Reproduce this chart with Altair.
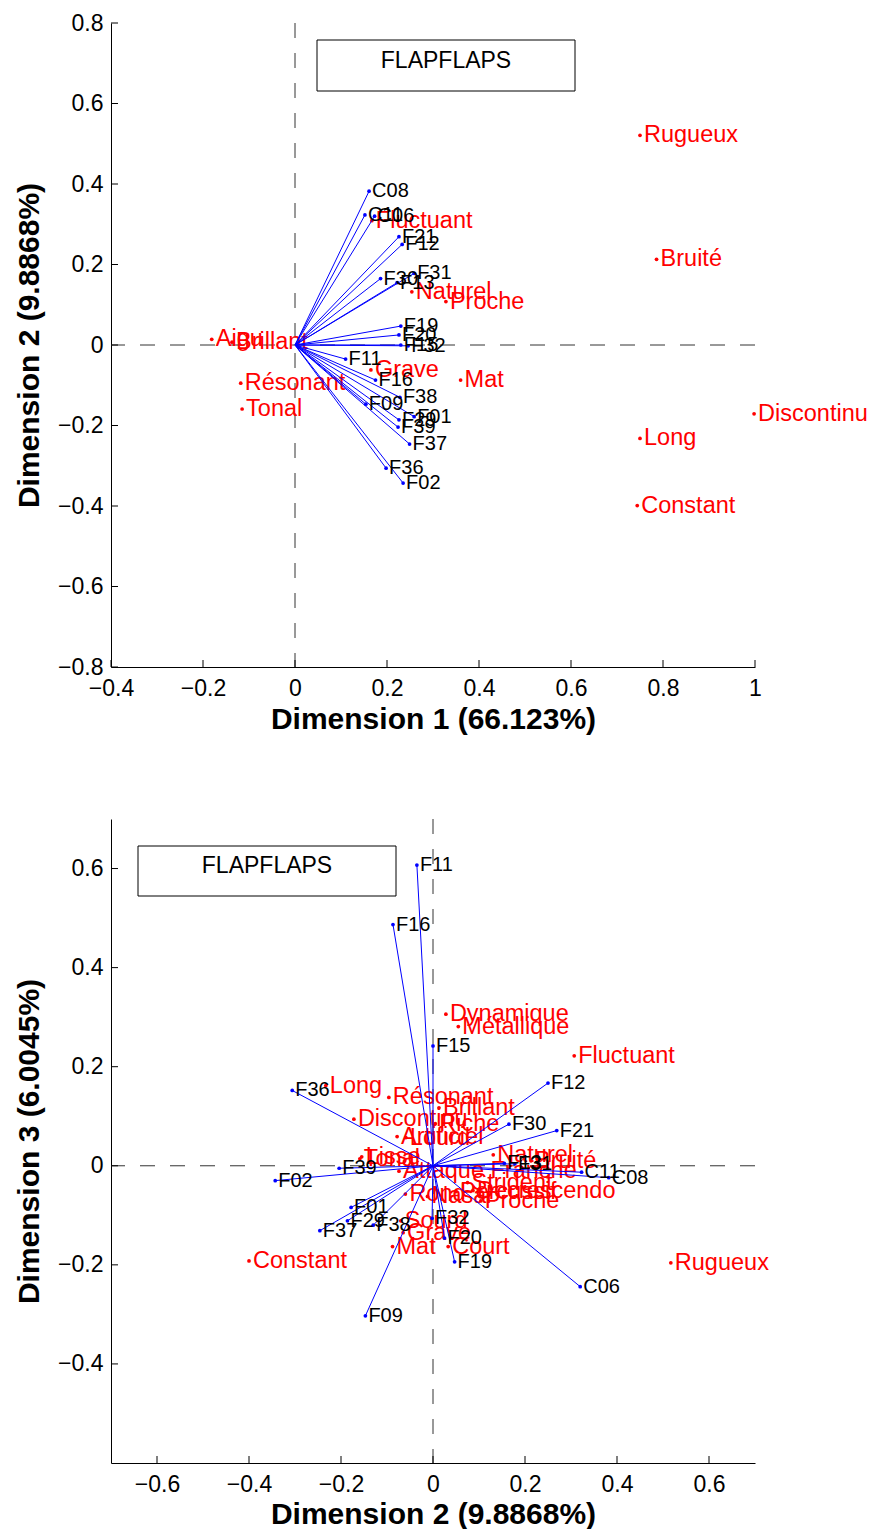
import altair as alt
import pandas as pd

FONT = "Liberation Sans"

# ---------------- stimuli (blue vectors) ----------------
stim_names = ["C08", "C11", "C06", "F21", "F12", "F30", "F31", "F13", "F19", "F20",
              "F15", "F32", "F11", "F16", "F38", "F09", "F01", "F29", "F39", "F37",
              "F36", "F02"]
stim_dim1 = [0.161, 0.152, 0.173, 0.226, 0.233, 0.186, 0.259, 0.222, 0.230, 0.226,
             0.230, 0.246, 0.110, 0.175, 0.228, 0.154, 0.259, 0.226, 0.224, 0.249,
             0.198, 0.235]
stim_dim2 = [0.382, 0.323, 0.320, 0.269, 0.250, 0.165, 0.178, 0.155, 0.047, 0.025,
             0.000, -0.002, -0.035, -0.087, -0.130, -0.147, -0.178, -0.186, -0.204, -0.246,
             -0.306, -0.343]
stim_dim3 = [-0.024, -0.013, -0.244, 0.071, 0.167, 0.084, 0.004, 0.005, -0.194, -0.146,
             0.242, -0.106, 0.607, 0.487, -0.120, -0.303, -0.084, -0.111, -0.005, -0.131,
             0.152, -0.030]

# ---------------- descriptors, panel 1 (dims 1-2) ----------------
top_desc_names = ["Rugueux", "Bruité", "Discontinu", "Long", "Constant", "Aigu", "Brillant",
                  "Résonant", "Tonal", "Fluctuant", "Naturel", "Proche", "Grave", "Mat"]
top_desc_dim1 = [0.750, 0.786, 0.998, 0.750, 0.744, -0.181, -0.137,
                 -0.118, -0.115, 0.167, 0.254, 0.328, 0.165, 0.360]
top_desc_dim2 = [0.521, 0.213, -0.171, -0.232, -0.399, 0.014, 0.007,
                 -0.095, -0.159, 0.309, 0.132, 0.108, -0.062, -0.087]

# ---------------- descriptors, panel 2 (dims 2-3) ----------------
bot_desc_names = ["Dynamique", "Métallique", "Fluctuant", "Long", "Résonant", "Brillant",
                  "Discontinu", "Riche", "Artificiel", "Lourd", "Tonal", "Lisse",
                  "Attaque Franche", "Naturel", "Bruité", "Strident", "Percussif",
                  "Decrescendo", "Rond", "Nasal", "Proche", "Sourd", "Grave",
                  "Mat", "Court", "Constant", "Rugueux"]
bot_desc_dim2 = [0.028, 0.055, 0.307, -0.233, -0.096, 0.013,
                 -0.172, 0.005, -0.078, -0.059, -0.159, -0.155,
                 -0.074, 0.131, 0.213, 0.075, 0.050,
                 0.087, -0.060, -0.012, 0.104, -0.070, -0.065,
                 -0.088, 0.033, -0.400, 0.517]
bot_desc_dim3 = [0.306, 0.281, 0.222, 0.162, 0.138, 0.117,
                 0.094, 0.085, 0.059, 0.057, 0.014, 0.018,
                 -0.011, 0.022, 0.010, -0.034, -0.052,
                 -0.050, -0.057, -0.062, -0.071, -0.111, -0.135,
                 -0.163, -0.163, -0.192, -0.196]

# ---------------- axes ----------------
top_xticks = [-0.4, -0.2, 0.0, 0.2, 0.4, 0.6, 0.8, 1.0]
top_yticks = [-0.8, -0.6, -0.4, -0.2, 0.0, 0.2, 0.4, 0.6, 0.8]
bot_xticks = [-0.6, -0.4, -0.2, 0.0, 0.2, 0.4, 0.6]
bot_yticks = [-0.4, -0.2, 0.0, 0.2, 0.4, 0.6]
legend_label = ["FLAPFLAPS"]

W = 644
H = 644


def make_axis(values, title, orient, tpad):
    common = dict(values=values, format=".1~f", ticks=False, grid=False,
                  domainColor="black", domainWidth=1,
                  labelFont=FONT, labelFontSize=23, labelColor="black",
                  labelFlush=False, labelOverlap=False,
                  title=title, titleFont=FONT, titleFontSize=30,
                  titleFontWeight="bold", titleColor="black")
    if orient == "x":
        return alt.Axis(labelPadding=10, titlePadding=tpad, **common)
    return alt.Axis(labelPadding=8, titlePadding=13, **common)


def panel(stim_df, xcol, ycol, desc_df, xdom, ydom, xticks, yticks,
          xtitle, ytitle, box, xtpad):
    xax = make_axis(xticks, xtitle, "x", xtpad)
    yax = make_axis(yticks, ytitle, "y", 13)
    xs = alt.Scale(domain=xdom, nice=False, zero=False)
    ys = alt.Scale(domain=ydom, nice=False, zero=False)

    def X(f):
        return alt.X(f, type="quantitative", scale=xs, axis=xax)

    def Y(f):
        return alt.Y(f, type="quantitative", scale=ys, axis=yax)

    zero = pd.DataFrame({"v": [0.0]})
    vline = alt.Chart(zero).mark_rule(color="#333333", strokeWidth=1,
                                      strokeDash=[15, 15]).encode(x=X("v"))
    hline = alt.Chart(zero).mark_rule(color="#333333", strokeWidth=1,
                                      strokeDash=[15, 15]).encode(y=Y("v"))

    xt = alt.Chart(pd.DataFrame({"t": xticks})).mark_rule(color="black").encode(
        x=X("t"), y=alt.value(H), y2=alt.value(H - 7))
    yt = alt.Chart(pd.DataFrame({"t": yticks})).mark_rule(color="black").encode(
        y=Y("t"), x=alt.value(0), x2=alt.value(7))

    red_pts = alt.Chart(desc_df).mark_circle(color="red", size=14, opacity=1).encode(
        x=X(xcol), y=Y(ycol))
    red_txt = alt.Chart(desc_df).mark_text(color="red", font=FONT, fontSize=23.5,
                                           align="left", baseline="middle", dx=4).encode(
        x=X(xcol), y=Y(ycol), text="name:N")

    vec = alt.Chart(stim_df).transform_calculate(o="0").mark_rule(
        color="blue", strokeWidth=1).encode(
        x=X("o"), y=Y("o"), x2=alt.X2(xcol), y2=alt.Y2(ycol))
    blue_pts = alt.Chart(stim_df).mark_circle(color="blue", size=14, opacity=1).encode(
        x=X(xcol), y=Y(ycol))
    blk_txt = alt.Chart(stim_df).mark_text(color="black", font=FONT, fontSize=20,
                                           align="left", baseline="middle", dx=3).encode(
        x=X(xcol), y=Y(ycol), text="name:N")

    bx0, bx1, by0, by1, tx, ty = box
    leg = pd.DataFrame({"label": legend_label})
    leg_box = alt.Chart(leg).mark_rect(fill="white", stroke="black", strokeWidth=1).encode(
        x=alt.value(bx0), x2=alt.value(bx1), y=alt.value(by0), y2=alt.value(by1))
    leg_txt = alt.Chart(leg).mark_text(font=FONT, fontSize=23, color="black",
                                       align="center", baseline="middle").encode(
        x=alt.value(tx), y=alt.value(ty), text="label:N")

    return alt.layer(vline, hline, xt, yt, red_pts, red_txt, vec, blue_pts, blk_txt,
                     leg_box, leg_txt).properties(width=W, height=H)


stim = pd.DataFrame({"name": stim_names, "d1": stim_dim1, "d2": stim_dim2, "d3": stim_dim3})
top_desc = pd.DataFrame({"name": top_desc_names, "d1": top_desc_dim1, "d2": top_desc_dim2})
bot_desc = pd.DataFrame({"name": bot_desc_names, "d2": bot_desc_dim2, "d3": bot_desc_dim3})

top = panel(stim, "d1", "d2", top_desc, [-0.4, 1.0], [-0.8, 0.8], top_xticks, top_yticks,
            "Dimension 1 (66.123%)", "Dimension 2 (9.8868%)",
            (206, 464, 17, 68, 335, 38), 4)
bottom = panel(stim, "d2", "d3", bot_desc, [-0.7, 0.7], [-0.6, 0.7], bot_xticks, bot_yticks,
               "Dimension 2 (9.8868%)", "Dimension 3 (6.0045%)",
               (27, 285, 27, 77, 156, 47), 3)

chart = alt.vconcat(top, bottom, spacing=84).properties(
    padding={"left": 6, "top": 4, "right": 0, "bottom": 0},
    background="white",
).configure_view(stroke=None)

chart.save("out.html", embed_options={"renderer": "svg", "actions": False})
